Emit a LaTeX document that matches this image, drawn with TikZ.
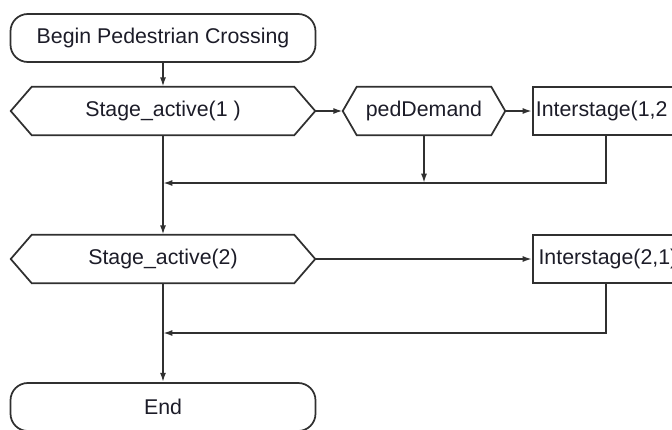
\documentclass[tikz,border=0pt]{standalone}
\usepackage{fontspec}
\setmainfont{Liberation Sans}
\usetikzlibrary{arrows.meta}
\definecolor{ink}{HTML}{1C1C28}
\definecolor{edge}{HTML}{303030}
\tikzset{
  box/.style={draw=none, inner sep=0pt, font=\fontsize{16}{19}\selectfont, text=ink},
  terminal/.style={box, draw=edge, line width=1.3pt, rounded corners=13pt,
                   minimum width=228.75pt, minimum height=36pt},
  decision/.style={box, minimum width=228pt, minimum height=36pt},
  process/.style={box, draw=edge, line width=1.3pt, minimum height=36pt,
                  text width=130pt, align=left, inner xsep=2.25pt},
  hexline/.style={draw=edge, line width=1.3pt, line join=miter},
  wire/.style={draw=edge, line width=1.3pt},
  flow/.style={wire, -{Latex[length=7pt,width=4.5pt]}}
}
% hexagonal outline around a borderless node: #1 node name, #2 indent
\newcommand\hexoutline[2]{%
  \draw[hexline] (#1.west) -- ([xshift=#2]#1.north west) -- ([xshift=-#2]#1.north east)
    -- (#1.east) -- ([xshift=-#2]#1.south east) -- ([xshift=#2]#1.south west) -- cycle;}
\begin{document}
\begin{tikzpicture}[x=0.75pt,y=-0.75pt]
\clip (0,0) rectangle (672,429);
\useasboundingbox (0,0) rectangle (672,429);

% main column
\node[terminal] (begin) at (163,38) {Begin Pedestrian Crossing};
\node[decision] (s1) at (163,111) {Stage\_active(1 )};
\hexoutline{s1}{15.75pt}
\node[decision] (s2) at (163,259) {Stage\_active(2)};
\hexoutline{s2}{15.75pt}
\node[terminal] (end) at (163,407) {End};

% branch of stage 1
\node[decision, minimum width=121.5pt] (ped) at (424,111) {pedDemand};
\hexoutline{ped}{10.5pt}
\node[process, anchor=west] (i12) at (532,111) {Interstage(1,2 )};

% branch of stage 2
\node[process, anchor=west] (i21) at (532,259) {\hspace{2pt}Interstage(2,1)};

% return points below the interstage boxes and merge points on the main column
\coordinate (r1) at ([xshift=55.5pt]i12.south west);
\coordinate (r2) at ([xshift=55.5pt]i21.south west);
\coordinate (j1) at (163,183);
\coordinate (j2) at (163,333);

% connectors
\draw[flow] (begin.south) -- (s1.north);
\draw[flow] (s1.east) -- (ped.west);
\draw[flow] (ped.east) -- (i12.west);
\draw[flow] (ped.south) -- (ped.south |- j1);
\draw[flow] (r1) |- (j1);
\draw[flow] (s1.south) -- (s2.north);
\draw[flow] (s2.east) -- (i21.west);
\draw[flow] (r2) |- (j2);
\draw[flow] (s2.south) -- (end.north);
\end{tikzpicture}
\end{document}
